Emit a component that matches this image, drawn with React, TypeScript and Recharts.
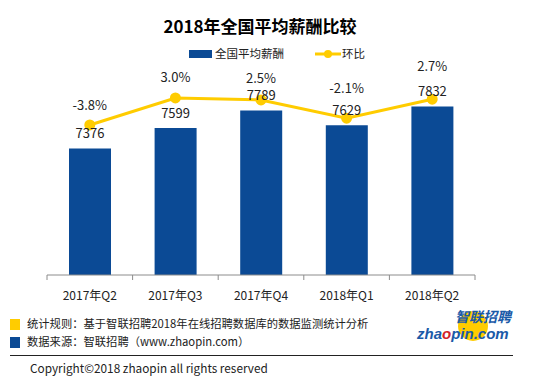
import React from "react";
import {
  ComposedChart,
  Bar,
  Line,
  XAxis,
  YAxis,
  LabelList,
} from "recharts";

const quarters = ["2017年Q2", "2017年Q3", "2017年Q4", "2018年Q1", "2018年Q2"];
const avgSalary = [7376, 7599, 7789, 7629, 7832];
const qoqRate = [-3.8, 3.0, 2.5, -2.1, 2.7];

const BLUE = "#0b4a95";
const YELLOW = "#ffcc00";
const FONT = '"Noto Sans CJK SC", "Noto Sans", sans-serif';

const W = 554;
const H = 383;
const margin = { top: 91, right: 79, bottom: 78, left: 47 };
const band = (W - margin.left - margin.right) / quarters.length;

// excel-ish manual label lift above each line point
const lineLabelLift = [15, 16, 17, 25, 28];

const data = quarters.map((q, i) => ({
  q,
  salary: avgSalary[i],
  rate: qoqRate[i],
}));

function QuarterTick(props: any) {
  const { x, y, payload, index } = props;
  const last = index === quarters.length - 1;
  return (
    <g>
      <line x1={x - band / 2} y1={y} x2={x - band / 2} y2={y + 5} stroke="#8c8c8c" />
      {last && <line x1={x + band / 2} y1={y} x2={x + band / 2} y2={y + 5} stroke="#8c8c8c" />}
      <text x={x} y={y + 25} textAnchor="middle" fontSize={12} fill="#222" fontFamily={FONT}>
        {payload.value}
      </text>
    </g>
  );
}

function RateLabel(props: any) {
  const { x, y, value, index } = props;
  return (
    <text x={x} y={y - lineLabelLift[index]} textAnchor="middle" fontSize={13} fill="#222" fontFamily={FONT}>
      {value.toFixed(1)}%
    </text>
  );
}

function LegendBox() {
  return (
    <div style={{ position: "absolute", left: 0, top: 46, width: W, height: 16, fontFamily: FONT, fontSize: 11.5, color: "#222" }}>
      <div style={{ position: "absolute", left: 189, top: 4, width: 23, height: 8, background: BLUE }} />
      <span style={{ position: "absolute", left: 215, top: -1 }}>全国平均薪酬</span>
      <svg style={{ position: "absolute", left: 314, top: 0 }} width={28} height={16}>
        <line x1={1} y1={8} x2={27} y2={8} stroke={YELLOW} strokeWidth={3} />
        <circle cx={14} cy={8} r={4} fill={YELLOW} />
      </svg>
      <span style={{ position: "absolute", left: 342, top: -1 }}>环比</span>
    </div>
  );
}

function Logo() {
  return (
    <svg style={{ position: "absolute", left: 412, top: 306 }} width={104} height={42}>
      <circle cx={61} cy={20} r={15} fill={YELLOW} />
      <text x={99} y={16} textAnchor="end" fontSize={14} fontWeight="bold" fontStyle="italic" fill="#1a5aa8" fontFamily={FONT}>
        智联招聘
      </text>
      <text x={5} y={33} fontSize={15} fontWeight="bold" fontStyle="italic" fill="#1a5aa8" fontFamily='"Liberation Sans", Arial, sans-serif'>
        zha<tspan fill="#d2232a">o</tspan>pin.com
      </text>
    </svg>
  );
}

export default function App() {
  return (
    <div style={{ position: "absolute", left: 0, top: 0, width: W, height: H, background: "#fff", overflow: "hidden" }}>
      <div
        style={{
          position: "absolute",
          left: 0,
          top: 13,
          width: 520,
          textAlign: "center",
          fontFamily: FONT,
          fontSize: 17,
          fontWeight: "bold",
          color: "#000",
        }}
      >
        2018年全国平均薪酬比较
      </div>
      <LegendBox />

      <div style={{ position: "absolute", left: 0, top: 0 }}>
        <ComposedChart width={W} height={H} data={data} margin={margin} barCategoryGap={0}>
          <XAxis
            dataKey="q"
            stroke="#8c8c8c"
            height={30}
            tickLine={false}
            tickSize={0}
            tickMargin={0}
            interval={0}
            tick={<QuarterTick />}
          />
          <YAxis yAxisId="left" hide domain={[6000, 8000]} />
          <YAxis yAxisId="right" orientation="right" hide domain={[-41.6, 4.76]} />
          <Bar yAxisId="left" dataKey="salary" fill={BLUE} barSize={42} isAnimationActive={false}>
            <LabelList dataKey="salary" position="top" offset={10} fontSize={13} fill="#222" fontFamily={FONT} />
          </Bar>
          <Line
            yAxisId="right"
            dataKey="rate"
            stroke={YELLOW}
            strokeWidth={3}
            dot={{ r: 4, fill: YELLOW, stroke: YELLOW }}
            isAnimationActive={false}
          >
            <LabelList dataKey="rate" content={<RateLabel />} />
          </Line>
        </ComposedChart>
      </div>

      <div style={{ position: "absolute", left: 10, top: 319, width: 10, height: 11, background: YELLOW }} />
      <div style={{ position: "absolute", left: 27, top: 315, fontFamily: FONT, fontSize: 11.3, color: "#222", whiteSpace: "nowrap" }}>
        统计规则：基于智联招聘2018年在线招聘数据库的数据监测统计分析
      </div>
      <div style={{ position: "absolute", left: 10, top: 337, width: 10, height: 11, background: BLUE }} />
      <div style={{ position: "absolute", left: 27, top: 333, fontFamily: FONT, fontSize: 11.3, color: "#222", whiteSpace: "nowrap" }}>
        数据来源：智联招聘（www.zhaopin.com）
      </div>
      <div style={{ position: "absolute", left: 10, top: 355, width: 503, height: 1, background: "#222" }} />
      <div style={{ position: "absolute", left: 30, top: 359, fontFamily: FONT, fontSize: 11.8, color: "#222", whiteSpace: "nowrap" }}>
        Copyright©2018 zhaopin all rights reserved
      </div>
      <Logo />
    </div>
  );
}
